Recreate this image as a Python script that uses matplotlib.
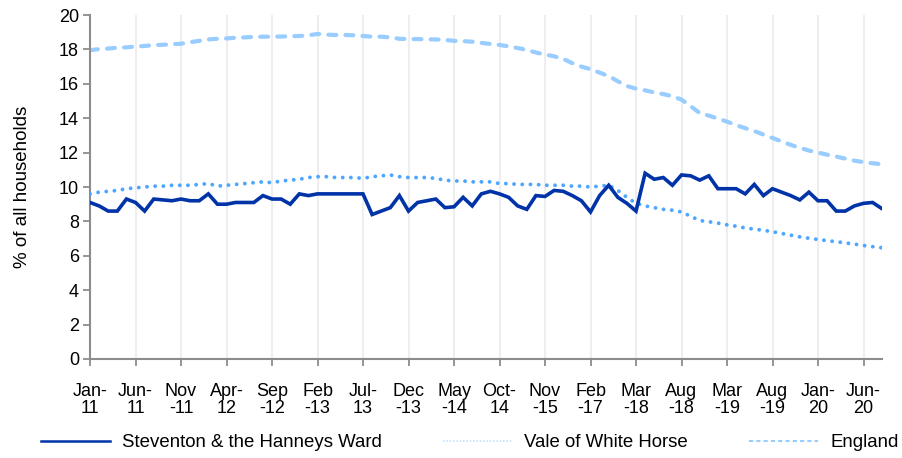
import matplotlib
matplotlib.use("Agg")
from matplotlib import pyplot as plt
from matplotlib.lines import Line2D

plt.rcParams["font.family"] = ["Liberation Sans", "DejaVu Sans"]

# Kategorien (Monate, nicht lueckenlos)
monate = [
    "Jan-11", "Feb-11", "Mar-11", "Apr-11", "May-11", "Jun-11", "Jul-11", "Aug-11", "Sep-11", "Oct-11", "Nov-11", "Dec-11",
    "Jan-12", "Feb-12", "Mar-12", "Apr-12", "May-12", "Jun-12", "Jul-12", "Aug-12", "Sep-12", "Oct-12", "Nov-12", "Dec-12",
    "Jan-13", "Feb-13", "Mar-13", "Apr-13", "May-13", "Jun-13", "Jul-13", "Aug-13", "Sep-13", "Oct-13", "Nov-13", "Dec-13",
    "Jan-14", "Feb-14", "Mar-14", "Apr-14", "May-14", "Jun-14", "Jul-14", "Aug-14", "Sep-14", "Oct-14",
    "Jan-15", "Apr-15", "Jul-15", "Oct-15", "Nov-15", "Feb-16", "May-16", "Aug-16", "Nov-16", "Feb-17",
    "May-17", "Aug-17", "Nov-17", "Feb-18", "Mar-18", "Apr-18", "May-18", "Jun-18", "Jul-18", "Aug-18",
    "Oct-18", "Nov-18", "Dec-18", "Feb-19", "Mar-19", "Apr-19", "May-19", "Jun-19", "Jul-19", "Aug-19",
    "Sep-19", "Oct-19", "Nov-19", "Dec-19", "Jan-20", "Feb-20", "Mar-20", "Apr-20", "May-20", "Jun-20",
    "Jul-20", "Aug-20",
]

steventon = [
    9.1, 8.9, 8.6, 8.6, 9.3, 9.1, 8.6, 9.3, 9.25, 9.2, 9.3, 9.2, 9.2, 9.6, 9.0, 9.0, 9.1, 9.1, 9.1, 9.5,
    9.3, 9.3, 9.0, 9.6, 9.5, 9.6, 9.6, 9.6, 9.6, 9.6, 9.6, 8.4, 8.6, 8.8, 9.5, 8.6, 9.1, 9.2, 9.3, 8.8,
    8.85, 9.4, 8.9, 9.6, 9.75, 9.6, 9.4, 8.9, 8.7, 9.5, 9.45, 9.8, 9.75, 9.5, 9.2, 8.55, 9.5, 10.1, 9.4, 9.05,
    8.6, 10.8, 10.45, 10.55, 10.1, 10.7, 10.65, 10.4, 10.65, 9.9, 9.9, 9.9, 9.6, 10.15, 9.5, 9.9, 9.7, 9.5, 9.25, 9.7,
    9.2, 9.2, 8.6, 8.6, 8.9, 9.05, 9.1, 8.75,
]

vale = [
    9.6, 9.7, 9.75, 9.8, 9.9, 9.95, 10.0, 10.05, 10.05, 10.1, 10.1, 10.1, 10.15, 10.2, 10.05, 10.1, 10.15, 10.2, 10.25, 10.3,
    10.25, 10.35, 10.4, 10.45, 10.55, 10.6, 10.6, 10.55, 10.55, 10.55, 10.5, 10.6, 10.65, 10.7, 10.6, 10.55, 10.55, 10.55, 10.5, 10.4,
    10.35, 10.35, 10.3, 10.3, 10.3, 10.2, 10.2, 10.15, 10.15, 10.15, 10.1, 10.1, 10.1, 10.05, 10.05, 10.0, 10.05, 10.1, 9.8, 9.4,
    9.05, 8.9, 8.8, 8.7, 8.65, 8.55, 8.3, 8.05, 7.98, 7.9, 7.8, 7.72, 7.62, 7.55, 7.48, 7.4, 7.3, 7.2, 7.1, 7.02,
    6.95, 6.88, 6.82, 6.75, 6.68, 6.6, 6.53, 6.47,
]

england = [
    17.95, 18.02, 18.05, 18.1, 18.12, 18.17, 18.2, 18.25, 18.27, 18.3, 18.33, 18.42, 18.5, 18.58, 18.62, 18.64, 18.68, 18.7, 18.73, 18.74,
    18.74, 18.75, 18.76, 18.78, 18.82, 18.9, 18.86, 18.84, 18.84, 18.82, 18.78, 18.74, 18.74, 18.7, 18.62, 18.6, 18.6, 18.59, 18.58, 18.55,
    18.5, 18.48, 18.45, 18.38, 18.32, 18.26, 18.18, 18.08, 17.97, 17.82, 17.7, 17.6, 17.45, 17.2, 17.0, 16.85, 16.65, 16.45, 16.15, 15.87,
    15.72, 15.62, 15.5, 15.4, 15.28, 15.08, 14.7, 14.3, 14.15, 13.98, 13.8, 13.6, 13.42, 13.25, 13.05, 12.85, 12.65, 12.45, 12.28, 12.12,
    12.0, 11.88, 11.77, 11.65, 11.53, 11.45, 11.38, 11.32,
]

# Monate, bei denen Excel den Bindestrich in die zweite Zeile umbricht
breite_monate = ["Feb", "Mar", "May", "Aug", "Sep", "Nov", "Dec"]

farbe_ward = "#0033a8"
farbe_vale = "#4da6ff"
farbe_england = "#99ccff"
grau = "#8c8c8c"

fig = plt.figure(figsize=(9.02, 4.58), dpi=100)
ax = fig.add_axes([0.0998, 0.2162, 0.8777, 0.751])

x = list(range(len(monate)))

ax.plot(x, england, color=farbe_england, linewidth=3.0, linestyle=(0, (1.9, 2.2)),
        dash_capstyle="round", zorder=2)
ax.plot(x, vale, color=farbe_vale, linewidth=2.8, linestyle=(0, (0.01, 2.1)),
        dash_capstyle="round", zorder=3)
ax.plot(x, steventon, color=farbe_ward, linewidth=2.6, solid_joinstyle="miter", zorder=4)

ax.set_xlim(0, len(monate) - 1)
ax.set_ylim(0, 20)
ax.set_yticks(range(0, 21, 2))

tick_pos = x[::5]
tick_labels = []
for i in tick_pos:
    mon, jahr = monate[i].split("-")
    if mon in breite_monate:
        tick_labels.append(mon + "\n-" + jahr)
    else:
        tick_labels.append(mon + "-\n" + jahr)
ax.set_xticks(tick_pos)
ax.set_xticklabels(tick_labels, linespacing=1.0)

ax.grid(axis="x", color="#eeeeee", linewidth=1.5, zorder=0)
ax.set_axisbelow(True)

for s in ["top", "right"]:
    ax.spines[s].set_visible(False)
for s in ["left", "bottom"]:
    ax.spines[s].set_color(grau)
    ax.spines[s].set_linewidth(1.5)

ax.tick_params(axis="both", colors=grau, labelcolor="black", labelsize=13,
               direction="out", length=5, width=1.3)
ax.tick_params(axis="x", pad=12)
ax.tick_params(axis="y", pad=3)

ax.set_ylabel("% of all households", fontsize=13.5, labelpad=20)

handles = [
    Line2D([], [], color=farbe_ward, linewidth=1.8),
    Line2D([], [], color="#c5e0ff", linewidth=1.2, linestyle=(0, (1, 1))),
    Line2D([], [], color=farbe_england, linewidth=1.5, linestyle=(0, (2, 1.5))),
]
fig.legend(handles, ["Steventon & the Hanneys Ward", "Vale of White Horse", "England"],
           loc="center", bbox_to_anchor=(0.521, 0.033), ncol=3, frameon=False,
           fontsize=13.4, handlelength=3.7, handletextpad=0.65, columnspacing=3.3)

fig.savefig("out.png", dpi=100)
